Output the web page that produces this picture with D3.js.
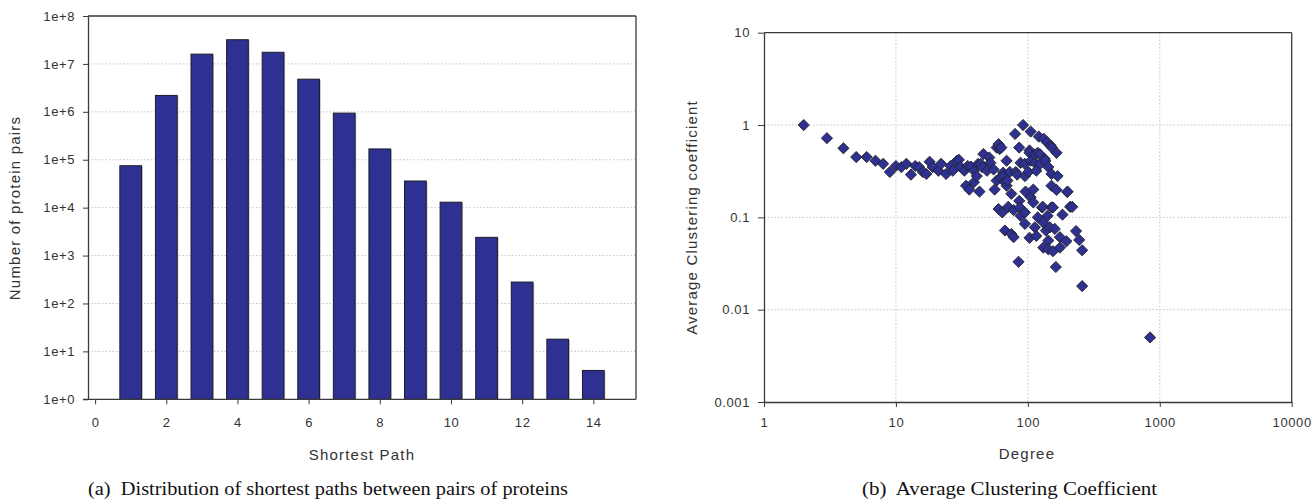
<!DOCTYPE html>
<html>
<head>
<meta charset="utf-8">
<script src="https://cdn.jsdelivr.net/npm/d3@7"></script>
<style>
  html, body { margin: 0; padding: 0; background: #fff; }
  svg { display: block; }
  .tick text { font-family: "Liberation Sans", Arial, sans-serif; font-size: 13px; fill: #333; letter-spacing: 0.6px; }
  .title { font-family: "Liberation Sans", Arial, sans-serif; font-size: 15px; fill: #333; letter-spacing: 1.2px; }
  .caption { font-family: "Liberation Serif", "Times New Roman", serif; font-size: 18.5px; fill: #111; }
</style>
</head>
<body>
<svg id="chart" width="1313" height="501"></svg>
<script>
// ---------- Data: (a) shortest paths ----------
const pathLengths = [1, 2, 3, 4, 5, 6, 7, 8, 9, 10, 11, 12, 13, 14];
const proteinPairs = [75000, 2200000, 16000000, 32000000, 17500000, 4800000, 940000, 168000, 36000, 13000, 2400, 280, 18, 4];
const pathTicks = [0, 2, 4, 6, 8, 10, 12, 14];
const pairTicks = [1, 10, 100, 1e3, 1e4, 1e5, 1e6, 1e7, 1e8];

// ---------- Data: (b) clustering coefficient vs degree ----------
const degree = [2, 3, 4, 5, 6, 7, 8, 9, 10, 11, 12, 13, 14, 15, 16, 17, 18, 19, 21, 22, 24, 26, 27, 29, 30, 31, 33, 34, 35, 36, 37, 39, 39, 41, 42, 43, 44, 45, 46, 49, 51, 52, 55, 56, 58, 58, 60, 60, 61, 62, 63, 64, 65, 65, 67, 67, 69, 69, 70, 71, 73, 75, 75, 78, 78, 80, 81, 83, 85, 86, 86, 87, 88, 88, 92, 95, 95, 95, 95, 96, 101, 103, 103, 103, 105, 105, 105, 110, 110, 113, 113, 113, 116, 116, 119, 119, 121, 124, 124, 128, 130, 131, 131, 132, 134, 136, 137, 140, 141, 143, 143, 143, 147, 149, 151, 151, 151, 152, 155, 155, 160, 163, 165, 165, 168, 175, 175, 183, 196, 199, 200, 209, 217, 232, 245, 258, 258, 844];
const clustering = [1.0, 0.72, 0.56, 0.45, 0.45, 0.41, 0.38, 0.31, 0.36, 0.35, 0.38, 0.29, 0.36, 0.35, 0.31, 0.295, 0.40, 0.35, 0.32, 0.38, 0.295, 0.36, 0.32, 0.41, 0.42, 0.35, 0.32, 0.22, 0.36, 0.20, 0.355, 0.24, 0.32, 0.28, 0.38, 0.19, 0.38, 0.35, 0.485, 0.32, 0.445, 0.39, 0.33, 0.20, 0.57, 0.25, 0.62, 0.123, 0.55, 0.27, 0.57, 0.113, 0.305, 0.28, 0.24, 0.072, 0.41, 0.22, 0.25, 0.13, 0.31, 0.18, 0.066, 0.12, 0.061, 0.80, 0.31, 0.29, 0.033, 0.57, 0.151, 0.128, 0.39, 0.104, 1.0, 0.38, 0.28, 0.113, 0.085, 0.19, 0.31, 0.53, 0.50, 0.06, 0.85, 0.41, 0.165, 0.20, 0.145, 0.39, 0.48, 0.078, 0.32, 0.063, 0.50, 0.10, 0.75, 0.48, 0.38, 0.128, 0.13, 0.088, 0.047, 0.71, 0.43, 0.41, 0.072, 0.65, 0.104, 0.35, 0.056, 0.045, 0.078, 0.60, 0.22, 0.295, 0.128, 0.57, 0.043, 0.128, 0.075, 0.029, 0.50, 0.198, 0.28, 0.047, 0.061, 0.107, 0.055, 0.188, 0.19, 0.13, 0.13, 0.071, 0.057, 0.044, 0.018, 0.005];
const degreeTicks = [1, 10, 100, 1000, 10000];
const clusterTicks = [0.001, 0.01, 0.1, 1, 10];

const svg = d3.select("#chart");
const BAR = "#2E3192";
const FRAME = "#3a3a3a";
const GRID = "#c4c4c4";

// =============== Chart (a) ===============
const A = { left: 88, right: 636, top: 16, bottom: 399.3 };
const xA = d3.scaleLinear().domain([-0.2, 15.2]).range([A.left, A.right]);
const yA = d3.scaleLog().domain([1, 1e8]).range([A.bottom, A.top]);
const gA = svg.append("g");

// grid
gA.append("g").selectAll("line").data(pairTicks.filter(d => d > 1 && d < 1e8)).join("line")
  .attr("x1", A.left).attr("x2", A.right)
  .attr("y1", d => yA(d)).attr("y2", d => yA(d))
  .attr("stroke", GRID).attr("stroke-width", 1).attr("stroke-dasharray", "1.5,2");

// bars
const bw = 0.61;
gA.append("g").selectAll("rect.sh").data(pathLengths).join("rect")
  .attr("x", (d) => xA(d - bw / 2) + 1.2)
  .attr("y", (d, i) => yA(proteinPairs[i]) + 0.8)
  .attr("width", xA(bw) - xA(0))
  .attr("height", (d, i) => yA(1) - yA(proteinPairs[i]) - 0.8)
  .attr("fill", "#b5b5b5");
gA.append("g").selectAll("rect.bar").data(pathLengths).join("rect")
  .attr("x", d => xA(d - bw / 2))
  .attr("y", (d, i) => yA(proteinPairs[i]))
  .attr("width", xA(bw) - xA(0))
  .attr("height", (d, i) => yA(1) - yA(proteinPairs[i]))
  .attr("fill", BAR).attr("stroke", "#1c1c2a").attr("stroke-width", 1);

// frame top/right
gA.append("line").attr("x1", A.left).attr("x2", A.right).attr("y1", A.top).attr("y2", A.top).attr("stroke", FRAME).attr("stroke-width", 1.3);
gA.append("line").attr("x1", A.right).attr("x2", A.right).attr("y1", A.top).attr("y2", A.bottom).attr("stroke", FRAME).attr("stroke-width", 1.3);

// axes
const axA_x = gA.append("g").attr("transform", `translate(0,${A.bottom})`)
  .call(d3.axisBottom(xA).tickValues(pathTicks).tickSize(5).tickSizeOuter(0).tickPadding(13));
const axA_y = gA.append("g").attr("transform", `translate(${A.left},0)`)
  .call(d3.axisLeft(yA).tickValues(pairTicks).tickFormat(d => "1e+" + Math.round(Math.log10(d))).tickSize(5).tickSizeOuter(0).tickPadding(8));
[axA_x, axA_y].forEach(a => { a.select(".domain").attr("stroke", FRAME).attr("stroke-width", 1.3); a.selectAll(".tick line").attr("stroke", FRAME); });
axA_x.select(".domain").attr("d", `M${A.left - 5},0H${A.right}`);

gA.append("text").attr("class", "title").attr("x", 362).attr("y", 460).attr("text-anchor", "middle").text("Shortest Path");
gA.append("text").attr("class", "title").attr("transform", "translate(20,208) rotate(-90)").attr("text-anchor", "middle").text("Number of protein pairs");
gA.append("text").attr("class", "caption").attr("x", 88).attr("y", 495)
  .attr("textLength", 480).attr("lengthAdjust", "spacingAndGlyphs")
  .attr("xml:space", "preserve").text("(a)  Distribution of shortest paths between pairs of proteins");

// =============== Chart (b) ===============
const B = { left: 764, right: 1291.7, top: 32.7, bottom: 402 };
const xB = d3.scaleLog().domain([1, 10000]).range([B.left, B.right]);
const yB = d3.scaleLog().domain([0.001, 10]).range([B.bottom, B.top]);
const gB = svg.append("g");

gB.append("g").selectAll("line").data(clusterTicks.filter(d => d > 0.001 && d < 10)).join("line")
  .attr("x1", B.left).attr("x2", B.right)
  .attr("y1", d => yB(d)).attr("y2", d => yB(d))
  .attr("stroke", GRID).attr("stroke-dasharray", "1.5,2");
gB.append("g").selectAll("line").data(degreeTicks.filter(d => d > 1 && d < 10000)).join("line")
  .attr("y1", B.top).attr("y2", B.bottom)
  .attr("x1", d => xB(d)).attr("x2", d => xB(d))
  .attr("stroke", GRID).attr("stroke-dasharray", "1.5,2");

gB.append("line").attr("x1", B.left).attr("x2", B.right).attr("y1", B.top).attr("y2", B.top).attr("stroke", FRAME).attr("stroke-width", 1.3);
gB.append("line").attr("x1", B.right).attr("x2", B.right).attr("y1", B.top).attr("y2", B.bottom).attr("stroke", FRAME).attr("stroke-width", 1.3);

const axB_x = gB.append("g").attr("transform", `translate(0,${B.bottom})`)
  .call(d3.axisBottom(xB).tickValues(degreeTicks).tickFormat(d3.format("d")).tickSize(5).tickSizeOuter(0).tickPadding(11));
const axB_y = gB.append("g").attr("transform", `translate(${B.left},0)`)
  .call(d3.axisLeft(yB).tickValues(clusterTicks).tickFormat(d => String(d)).tickSize(6).tickSizeOuter(0).tickPadding(8));
[axB_x, axB_y].forEach(a => { a.select(".domain").attr("stroke", FRAME).attr("stroke-width", 1.3); a.selectAll(".tick line").attr("stroke", FRAME); });

// diamonds
const r = 5.6;
const diamond = `M0,${-r}L${r},0L0,${r}L${-r},0Z`;
gB.append("g").selectAll("path").data(degree).join("path")
  .attr("transform", (d, i) => `translate(${xB(d)},${yB(clustering[i])})`)
  .attr("d", diamond)
  .attr("fill", BAR).attr("stroke", "#222").attr("stroke-width", 0.9);

gB.append("text").attr("class", "title").attr("x", 1027).attr("y", 459).attr("text-anchor", "middle").text("Degree");
gB.append("text").attr("class", "title").attr("transform", "translate(697,217.5) rotate(-90)").attr("text-anchor", "middle").text("Average Clustering coefficient");
gB.append("text").attr("class", "caption").attr("x", 862).attr("y", 495)
  .attr("textLength", 295).attr("lengthAdjust", "spacingAndGlyphs")
  .attr("xml:space", "preserve").text("(b)  Average Clustering Coefficient");
</script>
</body>
</html>
